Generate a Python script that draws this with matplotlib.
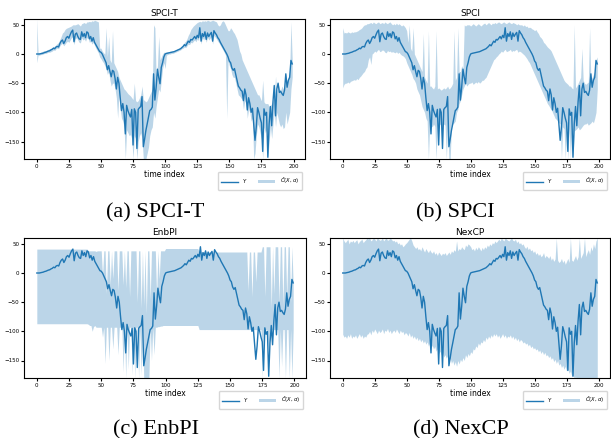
import numpy as np
import matplotlib
matplotlib.use("Agg")
import matplotlib.pyplot as plt

# observed series (same in all four panels), t = 0..199
Y = [
    0, 0, 0, 0.5, 1, 1.5, 2.5, 3, 4, 5,
    5.5, 7, 8, 10, 9, 12, 13, 12, 18, 22,
    24, 18, 22, 28, 30, 27, 33, 38, 41, 21,
    34, 36, 30, 26, 25, 38, 30, 35, 28, 38,
    36, 26, 30, 22, 28, 20, 16, 12, 8, 4,
    3, 0, -5, -10, -15, -27, -20, -30, -39, -28,
    -30, -42, -60, -40, -50, -75, -97, -85, -100, -137,
    -88, -97, -103, -108, -95, -156, -94, -100, -162, -95,
    -92, -90, -73, -159, -146, -131, -120, -108, -97, -95,
    -91, -34, -79, -57, -26, -40, -51, -23, -15, -5,
    0, 1, 1.5, 2, 2.5, 3, 3.5, 4, 5, 6,
    7, 8, 9, 11, 13, 16, 14, 18, 22, 20,
    25, 24, 27, 30, 26, 32, 28, 45, 22, 35,
    30, 38, 25, 36, 30, 34, 37, 22, 40, 36,
    33, 28, 25, 20, 16, 12, 8, 4, 0, -5,
    -12, -15, -24, -28, -25, -35, -45, -55, -58, -62,
    -64, -80, -60, -70, -96, -75, -85, -100, -93, -120,
    -148, -125, -92, -100, -110, -118, -167, -94, -105, -100,
    -177, -120, -90, -123, -82, -54, -106, -60, -50, -66,
    -64, -68, -71, -62, -34, -57, -45, -40, -11, -17,
]

# SPCI-T interval
spcit_hi = [
    60, 2, 2, 3, 4, 5, 6, 6, 7, 8,
    9, 10, 11, 13, 13, 16, 18, 20, 25, 30,
    36, 38, 42, 44, 45, 46, 47, 48, 50, 50,
    50, 51, 52, 50, 48, 52, 53, 54, 52, 55,
    55, 56, 55, 57, 56, 58, 57, 56, 55, 10,
    10, 5, 2, 0, 45, -5, 30, -10, -15, 40,
    -15, -20, -25, -30, -40, -45, -50, -55, -60, -62,
    -65, -68, -70, -72, -75, -78, -50, -80, -82, -80,
    -75, -70, -55, -78, -80, -82, -80, -75, -70, -65,
    -60, 50, 45, -40, -20, 30, -10, -5, 0, 3,
    3, 3, 4, 4, 5, 5, 6, 6, 7, 8,
    9, 10, 12, 14, 16, 20, 22, 26, 32, 36,
    42, 45, 48, 50, 52, 54, 55, 56, 55, 57,
    56, 57, 56, 58, 57, 56, 57, 58, 57, 56,
    55, 50, 48, 50, 55, 57, 55, 50, 45, 40,
    40, 45, 42, 38, 35, 30, 25, 15, 5, 0,
    -10, -15, -20, -25, -30, -35, -40, -45, -50, -55,
    -60, -65, -70, -70, -75, -80, -45, -82, -85, -85,
    -85, -90, -88, -85, -80, -75, -38, -70, -50, -60,
    -62, -55, -60, -58, -35, -50, -40, -30, 55, -10,
]
spcit_lo = [
    -15, -2, -2, -1, -1, 0, 1, 1, 2, 3,
    3, 4, 5, 7, 6, 9, 10, 9, 14, 17,
    18, 14, 17, 20, 22, 20, 24, 28, 30, 16,
    26, 28, 24, 20, 19, 28, 24, 26, 22, 28,
    27, 20, 22, 17, 20, 15, 10, 6, 2, -5,
    -8, -12, -15, -20, -25, -35, -30, -45, -55, -50,
    -50, -60, -75, -110, -70, -95, -110, -115, -125, -180,
    -130, -135, -140, -138, -145, -180, -140, -145, -180, -150,
    -140, -135, -145, -180, -180, -180, -170, -160, -140, -130,
    -125, -100, -110, -90, -75, -60, -65, -45, -25, -15,
    -25, -2, -1, 0, 0, 1, 1, 2, 3, 4,
    5, 6, 7, 9, 10, 12, 11, 14, 17, 16,
    20, 19, 22, 24, 21, 26, 23, 36, 17, 28,
    24, 30, 20, 29, 24, 27, 30, 17, 32, 29,
    26, 22, 19, 15, 11, 7, 3, -2, -110, -12,
    -20, -25, -35, -40, -40, -50, -60, -70, -72, -75,
    -78, -95, -80, -85, -110, -95, -100, -115, -110, -180,
    -170, -140, -120, -125, -135, -145, -180, -125, -135, -130,
    -180, -150, -125, -145, -120, -100, -125, -100, -110, -120,
    -125, -120, -128, -125, -100, -120, -110, -100, -60, -40,
]

# SPCI interval
spci_hi = [
    45, 36, 37, 36, 38, 37, 36, 38, 37, 38,
    38, 39, 40, 42, 43, 45, 48, 50, 50, 52,
    52, 53, 54, 52, 55, 53, 52, 54, 55, 52,
    53, 54, 52, 55, 53, 52, 54, 55, 52, 50,
    52, 50, 53, 50, 52, 50, 48, 50, 48, 45,
    40, 20, 50, 10, 5, 45, 0, -5, -10, -15,
    -20, -25, -30, 35, -40, -45, -50, 40, -55, -55,
    -58, -60, -55, 40, -60, -58, -60, -62, -60, -58,
    -60, -58, -55, -60, -58, -55, -50, 40, -45, -40,
    45, -30, -30, -20, -25, 50, 48, 50, 50, 50,
    48, 50, 52, 50, 48, 50, 52, 50, 48, 50,
    52, 53, 50, 52, 54, 52, 50, 53, 52, 54,
    52, 54, 55, 53, 52, 54, 55, 53, 52, 54,
    55, 53, 52, 54, 53, 52, 50, 52, 50, 50,
    50, 48, 50, 47, 48, 45, 46, 45, 43, 42,
    40, 42, 38, 35, 30, 28, 25, 20, 18, 15,
    12, 10, 8, 5, 0, -5, -10, -15, -20, -25,
    -30, -35, -40, -45, -48, -50, -52, -55, -55, -58,
    -60, 50, -58, -55, -50, -45, -40, 10, -45, -50,
    -52, -50, -48, 45, -45, -40, -35, -30, -10, -5,
]
spci_lo = [
    -58, -52, -50, -50, -48, -50, -47, -46, -45, -44,
    -45, -42, -44, -40, -38, -35, -32, -30, -25, -22,
    -10, -5, -18, 0, 2, 5, 3, 6, 8, 4,
    5, 7, 6, 3, 2, 6, 4, 5, 3, 4,
    3, 2, 4, 1, 3, 0, -2, -3, -5, -8,
    -15, -20, -25, -30, -35, -42, -45, -50, -60, -65,
    -70, -80, -90, -95, -100, -110, -115, -180, -120, -122,
    -125, -120, -124, -180, -122, -125, -120, -123, -125, -120,
    -122, -180, -125, -180, -180, -122, -120, -118, -115, -100,
    -95, -85, -80, -70, -60, -55, -50, -55, -52, -50,
    -50, -48, -52, -50, -48, -50, -47, -50, -48, -45,
    -45, -42, -40, -35, -30, -25, -20, -15, -10, -8,
    -5, -3, 0, 2, 5, 3, 6, 8, 4, 5,
    6, 8, 4, 6, 5, 7, 8, 3, 5, 4,
    2, 0, -2, -5, -8, -12, -15, -20, -25, -30,
    -35, -40, -45, -50, -55, -60, -65, -70, -75, -80,
    -85, -88, -92, -95, -100, -105, -110, -112, -115, -118,
    -120, -180, -125, -128, -180, -130, -180, -128, -180, -130,
    -180, -132, -130, -128, -125, -130, -128, -125, -122, -120,
    -120, -118, -122, -120, -118, -115, -118, -110, -100, -60,
]

# EnbPI interval
enbpi_hi = [
    41, 41, 41, 41, 41, 41, 41, 41, 41, 41,
    41, 41, 41, 41, 41, 41, 41, 41, 41, 41,
    41, 41, 41, 41, 41, 41, 41, 41, 41, 41,
    41, 41, 41, 41, 41, 41, 41, 41, 41, 41,
    38, 38, 38, 38, 38, 38, 37, 38, 38, 38,
    38, -5, 38, 38, -35, 38, 38, -20, 38, -10,
    38, 38, 38, -30, 38, 38, 38, -20, 38, -25,
    38, 38, -40, 38, 38, 38, 38, 38, -50, 38,
    38, -60, 38, -55, 38, -70, 38, 38, -45, 38,
    38, 38, 38, -40, 38, -10, 38, 38, 38, 38,
    42, 42, 42, 42, 42, 42, 42, 42, 42, 42,
    42, 42, 42, 42, 42, 42, 42, 42, 42, 42,
    42, 42, 42, 42, 42, 42, 36, 36, 36, 36,
    36, 36, 36, 36, 36, 36, 36, 36, 36, 36,
    36, 36, 36, 36, 36, 36, 36, 36, 36, 36,
    36, 36, 36, 36, 36, 36, 36, 36, 36, 36,
    36, 36, 36, 36, -30, 36, 36, -40, 36, 36,
    -15, 36, 36, 36, 36, 45, 45, -40, 45, 45,
    45, 45, -60, 45, -35, 45, 45, 45, -50, 45,
    45, -55, 45, 45, -40, 45, 45, -50, 45, -20,
]
enbpi_lo = [
    -87, -87, -87, -87, -87, -87, -87, -87, -87, -87,
    -87, -87, -87, -87, -87, -87, -87, -87, -87, -87,
    -87, -87, -87, -87, -87, -87, -87, -87, -87, -87,
    -87, -87, -87, -87, -87, -87, -87, -87, -87, -87,
    -88, -90, -90, -100, -92, -90, -93, -93, -93, -93,
    -93, -110, -93, -155, -93, -93, -150, -93, -93, -130,
    -93, -93, -93, -140, -93, -93, -93, -170, -93, -180,
    -93, -165, -93, -93, -175, -93, -180, -93, -93, -180,
    -93, -175, -93, -180, -180, -180, -180, -180, -93, -150,
    -93, -140, -93, -93, -92, -92, -91, -91, -90, -90,
    -90, -90, -90, -90, -90, -90, -90, -90, -90, -90,
    -90, -90, -90, -90, -90, -90, -90, -90, -90, -90,
    -90, -90, -90, -90, -90, -90, -97, -97, -97, -97,
    -97, -97, -97, -97, -97, -97, -97, -97, -97, -97,
    -97, -97, -97, -97, -97, -97, -97, -97, -97, -97,
    -97, -97, -97, -97, -97, -97, -97, -97, -97, -97,
    -97, -97, -97, -97, -97, -97, -97, -97, -97, -97,
    -97, -97, -97, -97, -97, -180, -97, -97, -97, -97,
    -150, -97, -97, -97, -97, -97, -97, -97, -180, -97,
    -160, -97, -97, -180, -97, -97, -180, -97, -180, -97,
]

# NexCP interval
nexcp_hi = [
    60, 55, 52, 55, 58, 50, 55, 53, 56, 52,
    55, 57, 50, 54, 56, 58, 52, 55, 57, 60,
    58, 60, 55, 57, 60, 58, 55, 60, 58, 56,
    57, 60, 55, 58, 60, 56, 57, 60, 58, 55,
    56, 53, 55, 50, 52, 48, 50, 45, 47, 50,
    52, 55, 58, 60, 55, 48, 45, 42, 45, 40,
    42, 38, 45, 40, 36, 42, 38, 35, 40, 36,
    34, 38, 32, 35, 30, 36, 33, 30, 34, 32,
    35, 30, 33, 36, 32, 38, 35, 40, 37, 55,
    38, 42, 40, 45, 42, 40, 48, 45, 50, 48,
    45, 40, 42, 38, 44, 40, 45, 42, 38, 44,
    40, 45, 42, 48, 45, 50, 47, 52, 50, 55,
    52, 55, 58, 55, 60, 57, 55, 60, 58, 56,
    55, 58, 60, 56, 55, 58, 52, 55, 50, 52,
    48, 50, 45, 42, 46, 40, 43, 38, 40, 35,
    38, 32, 35, 30, 33, 28, 30, 35, 26, 30,
    28, 25, 30, 22, 26, 20, 24, 60, 22, 18,
    20, 25, 18, 22, 15, 20, 25, 18, 60, 22,
    20, 25, 30, 22, 28, 60, 25, 30, 35, 60,
    28, 35, 40, 32, 45, 38, 50, 42, 55, 60,
]
nexcp_lo = [
    -105, -110, -108, -112, -106, -110, -104, -112, -108, -110,
    -106, -112, -108, -104, -110, -106, -112, -108, -110, -105,
    -104, -100, -106, -98, -102, -96, -100, -104, -98, -102,
    -100, -96, -104, -98, -100, -95, -102, -98, -104, -100,
    -98, -102, -96, -100, -104, -98, -102, -100, -106, -102,
    -104, -108, -102, -110, -106, -112, -108, -114, -110, -116,
    -112, -118, -114, -120, -116, -122, -118, -125, -120, -128,
    -124, -130, -126, -134, -130, -138, -134, -140, -136, -144,
    -140, -146, -142, -150, -146, -155, -150, -158, -152, -160,
    -150, -156, -148, -152, -145, -150, -140, -145, -138, -142,
    -135, -138, -130, -132, -125, -128, -120, -124, -118, -120,
    -114, -118, -110, -114, -108, -112, -106, -110, -104, -108,
    -104, -110, -106, -112, -108, -104, -110, -106, -112, -108,
    -110, -106, -112, -108, -114, -110, -116, -112, -118, -114,
    -116, -120, -118, -122, -120, -125, -122, -128, -125, -130,
    -128, -132, -130, -135, -132, -138, -134, -140, -136, -142,
    -140, -145, -142, -148, -145, -152, -148, -155, -150, -158,
    -155, -162, -158, -165, -160, -168, -165, -172, -168, -176,
    -175, -180, -178, -182, -180, -185, -182, -188, -185, -190,
    -188, -192, -190, -195, -192, -196, -194, -198, -196, -200,
]

titles = ["SPCI-T", "SPCI", "EnbPI", "NexCP"]
captions = ["(a) SPCI-T", "(b) SPCI", "(c) EnbPI", "(d) NexCP"]
bands = [(spcit_lo, spcit_hi), (spci_lo, spci_hi),
         (enbpi_lo, enbpi_hi), (nexcp_lo, nexcp_hi)]

t = np.arange(len(Y))

W, H = 611, 438
fig = plt.figure(figsize=(W / 100, H / 100), dpi=100)

# axes boxes in pixels: left, top, right, bottom
boxes = [(24, 19, 305, 159), (330, 19, 610, 159),
         (24, 238, 306, 378), (330, 238, 610, 378)]
cap_pos = [(155, 217), (455, 217), (156, 434), (461, 434)]

for k in range(4):
    l, tp, r, b = boxes[k]
    ax = fig.add_axes([l / W, 1 - b / H, (r - l) / W, (b - tp) / H])
    lo, hi = bands[k]
    ax.plot(t, Y, color="tab:blue", lw=1, label="$Y$")
    ax.fill_between(t, lo, hi, color="tab:blue", alpha=0.3, lw=0,
                    label=r"$\hat{C}(X,\alpha)$")
    ax.set_ylim(-180, 60)
    ax.set_xticks([0, 25, 50, 75, 100, 125, 150, 175, 200])
    ax.set_yticks([-150, -100, -50, 0, 50])
    ax.tick_params(labelsize=4, length=2, pad=1.5)
    ax.set_title(titles[k], fontsize=6.5, pad=2)
    ax.set_xlabel("time index", fontsize=5.5, labelpad=1)
    ax.legend(loc="upper right", bbox_to_anchor=(1.0, -0.075), ncol=2,
              fontsize=3.8, handlelength=3.2, columnspacing=2.0,
              borderpad=0.7)
    cx, cy = cap_pos[k]
    fig.text(cx / W, 1 - cy / H, captions[k], ha="center", va="baseline",
             fontsize=16, family="Liberation Serif")

fig.savefig("out.png", dpi=100)
